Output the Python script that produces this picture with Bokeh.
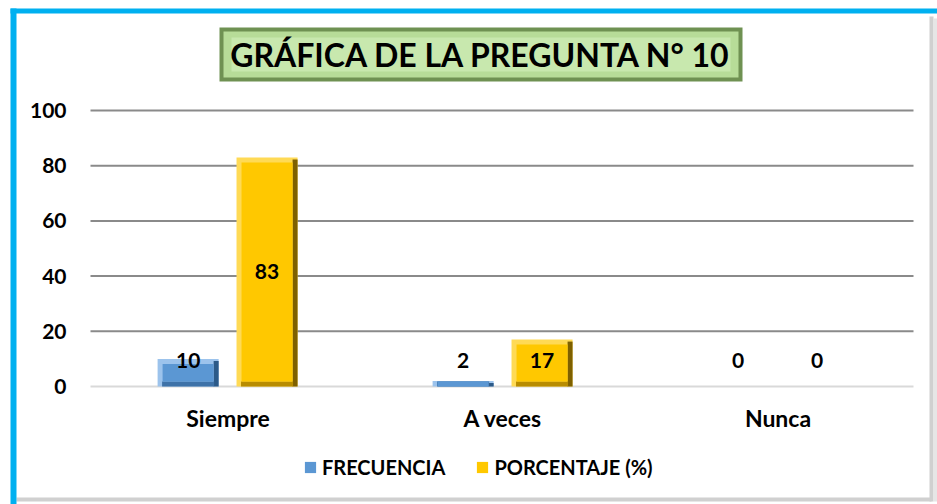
from bokeh.plotting import figure
from bokeh.models import ColumnDataSource, Range1d, Legend, LegendItem
from bokeh.core.properties import value
from bokeh.embed import file_html
from bokeh.resources import INLINE

# ---------------- data ----------------
categories = ["Siempre", "A veces", "Nunca"]
frecuencia = [10, 2, 0]
porcentaje = [83, 17, 0]
series_names = ["FRECUENCIA", "PORCENTAJE (%)"]
y_ticks = [0, 20, 40, 60, 80, 100]
title_text = "GRÁFICA DE LA PREGUNTA N° 10"

# ---------------- layout helpers (picture pixels -> data) ----------------
FONT = "Lato"
W, H = 937, 504           # canvas size
PAGE0 = 0
CAT_PX = 275.0            # px per category
UNIT_PX = 2.76            # px per y unit
CAT0_CENTER_PX = 227.5    # picture x of first category centre
ZERO_PX = 386.0           # picture y of value 0


def fx(px):
    return 0.5 + (px - CAT0_CENTER_PX) / CAT_PX


def fy(py):
    return (ZERO_PX - py) / UNIT_PX


def wx(px):
    return px / CAT_PX


def wy(px):
    return px / UNIT_PX


p = figure(width=W, height=H, output_backend="svg", toolbar_location=None,
           x_range=Range1d(fx(PAGE0), fx(PAGE0 + W)), y_range=Range1d(fy(PAGE0 + H), fy(PAGE0)),
           x_axis_location=None, y_axis_location=None,
           min_border=0, min_border_left=0, min_border_right=0, min_border_top=0, min_border_bottom=0)
p.outline_line_color = None
p.grid.visible = False
p.background_fill_color = "white"
p.border_fill_color = "white"

# frame decoration: blue border top/left, grey shadow right/bottom
p.quad(left=fx(929), right=fx(933), top=fy(16), bottom=fy(501), fill_color="#D0D0D0", line_color=None)
p.quad(left=fx(933), right=fx(937), top=fy(18), bottom=fy(501), fill_color="#E6E6E6", line_color=None)
p.quad(left=fx(16), right=fx(931), top=fy(497), bottom=fy(501), fill_color="#D0D0D0", line_color=None)
p.quad(left=fx(10), right=fx(937), top=fy(8), bottom=fy(13), fill_color="#00B0F0", line_color=None)
p.quad(left=fx(10), right=fx(16), top=fy(8), bottom=fy(504), fill_color="#00B0F0", line_color=None)

# gridlines
grid_y = [t for t in y_ticks if t > 0]
p.segment(x0=[fx(90)] * len(grid_y), x1=[fx(913)] * len(grid_y), y0=grid_y, y1=grid_y,
          line_color="#8A8A8A", line_width=2)
p.segment(x0=[fx(90)], x1=[fx(913)], y0=[0], y1=[0], line_color="#D9D9D9", line_width=2)

# y tick labels
p.text(x=[fx(66)] * len(y_ticks), y=y_ticks, text=[str(t) for t in y_ticks],
       text_align="right", text_baseline="middle", text_font=value(FONT), text_font_style="bold",
       text_font_size="21px", text_color="black")

# category labels
xc = [i + 0.5 for i in range(len(categories))]
p.text(x=xc, y=[fy(417)] * len(categories), text=categories, text_align="center",
       text_baseline="middle", text_font=value(FONT), text_font_style="bold",
       text_font_size="23px", text_color="black")

# bars (bevelled look)
OFF_F, OFF_P = -0.145, 0.142
BW = 0.222
INSET = 5


def bars(vals, off, light, face, dark, mid):
    xs = [c + off for c in xc]
    src = ColumnDataSource(dict(x=xs, top=vals))
    # full bar in bevel-light tone (top / left bevel)
    p.vbar(x="x", top="top", width=BW, source=src, fill_color=light, line_color=None)
    # right bevel, dark
    p.vbar(x=[c + BW / 2 - wx(INSET) / 2 for c in xs], top=[max(v - wy(2), 0) for v in vals],
           width=wx(INSET), fill_color=dark, line_color=None)
    # bottom bevel
    p.vbar(x=xs, top=[min(v, wy(INSET)) for v in vals], width=BW - 2 * wx(INSET) + wx(1),
           fill_color=mid, line_color=None)
    # face
    inner_top = [max(v - wy(INSET), wy(INSET)) if v > 2 * wy(INSET) else 0 for v in vals]
    r = p.vbar(x=xs, top=inner_top, bottom=[min(wy(INSET), v) for v in vals],
               width=BW - 2 * wx(INSET), fill_color=face, line_color=None)
    return r


rb = bars(frecuencia, OFF_F, "#9CC3EC", "#5B97D3", "#2C5A88", "#3E72A8")
ry = bars(porcentaje, OFF_P, "#FFDA55", "#FFC800", "#7E6000", "#B88C00")

# data labels
LABEL_MIN = 9.4
for vals, off in [(frecuencia, OFF_F), (porcentaje, OFF_P)]:
    p.text(x=[c + off for c in xc], y=[max(v / 2, LABEL_MIN) for v in vals], text=[str(v) for v in vals],
           text_align="center", text_baseline="middle", text_font=value(FONT),
           text_font_style="bold", text_font_size="21px", text_color="black")

# title box
p.quad(left=fx(219), right=fx(742), top=fy(27), bottom=fy(81), fill_color="#6F9152", line_color=None)
p.quad(left=fx(223), right=fx(738), top=fy(31), bottom=fy(77), fill_color="#B7DC98", line_color=None)
p.quad(left=fx(231), right=fx(730), top=fy(37), bottom=fy(71), fill_color="#C8E8AE", line_color=None)
p.text(x=[fx(480.5)], y=[fy(54)], text=[title_text], text_align="center", text_baseline="middle",
       text_font=value(FONT), text_font_style="bold", text_font_size="32px", text_color="black")

# legend
legend = Legend(items=[LegendItem(label=series_names[0], renderers=[rb]),
                       LegendItem(label=series_names[1], renderers=[ry])],
                orientation="horizontal", location=(303, 25),
                label_text_font=FONT, label_text_font_style="bold", label_text_font_size="20px",
                label_text_color="black", glyph_width=14, glyph_height=14,
                spacing=30, label_standoff=5, border_line_color=None, background_fill_alpha=0,
                padding=0, margin=0)
p.add_layout(legend, "center")

open("out.html", "w").write(file_html(p, INLINE))
